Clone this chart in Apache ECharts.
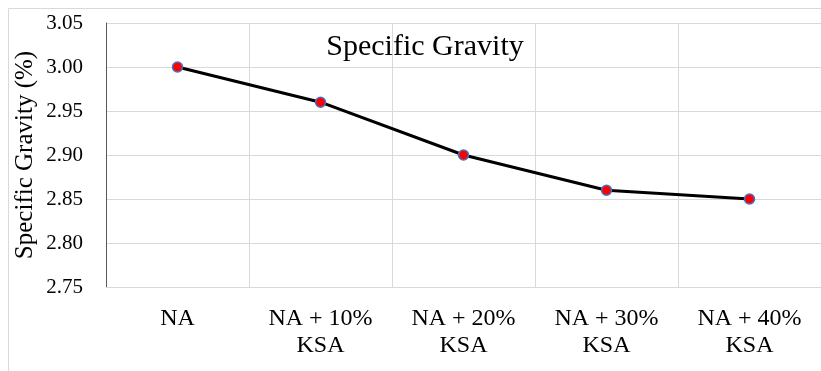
<!DOCTYPE html>
<html><head><meta charset="utf-8">
<script src="https://cdn.jsdelivr.net/npm/echarts@6/dist/echarts.min.js"></script>
<style>html,body{margin:0;padding:0;background:#fff}#c{width:821px;height:371px}</style>
</head><body><div id="c"></div>
<script>
const categories = ['NA', 'NA + 10%\nKSA', 'NA + 20%\nKSA', 'NA + 30%\nKSA', 'NA + 40%\nKSA'];
const values = [3.00, 2.96, 2.90, 2.86, 2.85];
const yTickLabels = ['2.75', '2.80', '2.85', '2.90', '2.95', '3.00', '3.05'];
const yTicks = { min: 2.75, max: 3.05, interval: 0.05 };
const font = 'Liberation Serif';
const chart = echarts.init(document.getElementById('c'));
const frame = { type: 'rect', shape: { x: 8.5, y: 8.5, width: 830, height: 380 }, style: { fill: 'none', stroke: '#d9d9d9', lineWidth: 1 } };
chart.setOption({
  animation: false,
  textStyle: { fontFamily: font },
  graphic: [frame],
  title: { text: 'Specific Gravity', left: 420, top: 27, textAlign: 'center',
    textStyle: { fontFamily: font, fontSize: 30, fontWeight: 'normal', color: '#000' } },
  grid: { left: 106, top: 23, width: 725, height: 264 },
  xAxis: { type: 'category', data: categories, boundaryGap: true,
    axisLine: { lineStyle: { color: '#d9d9d9', width: 1 } },
    axisTick: { show: false },
    splitLine: { show: true, interval: 0, lineStyle: { color: '#d9d9d9', width: 1 } },
    axisLabel: { show: false } },
  yAxis: { type: 'value', min: yTicks.min, max: yTicks.max, interval: yTicks.interval,
    name: 'Specific Gravity (%)', nameLocation: 'middle', nameGap: 68, nameRotate: 90,
    nameTextStyle: { fontFamily: font, fontSize: 25, color: '#000' },
    axisLine: { show: true, lineStyle: { color: '#595959', width: 1 } },
    axisTick: { show: false },
    splitLine: { lineStyle: { color: '#d9d9d9', width: 1 } },
    axisLabel: { show: false } },
  series: [{ type: 'line', data: values, symbol: 'circle', symbolSize: 10,
    lineStyle: { color: '#000', width: 3 },
    itemStyle: { color: '#ff0000', borderColor: '#4472c4', borderWidth: 1.5 } }]
});
const labels = [frame];
yTickLabels.forEach(t => {
  const y = chart.convertToPixel({ yAxisIndex: 0 }, parseFloat(t));
  labels.push({ type: 'text', x: 83, y: y, style: { text: t, font: 'normal 21px "Liberation Serif", serif', fontFamily: font, fontSize: 21, fill: '#000', align: 'right', verticalAlign: 'middle' } });
});
const xTop = chart.convertToPixel({ yAxisIndex: 0 }, yTicks.min) + 18;
categories.forEach(c => {
  const x = chart.convertToPixel({ xAxisIndex: 0 }, c);
  labels.push({ type: 'text', x: x, y: xTop, style: { text: c, font: 'normal 24px "Liberation Serif", serif', fontFamily: font, fontSize: 24, lineHeight: 27, fill: '#000', align: 'center', verticalAlign: 'top' } });
});
chart.setOption({ graphic: labels });
</script></body></html>
